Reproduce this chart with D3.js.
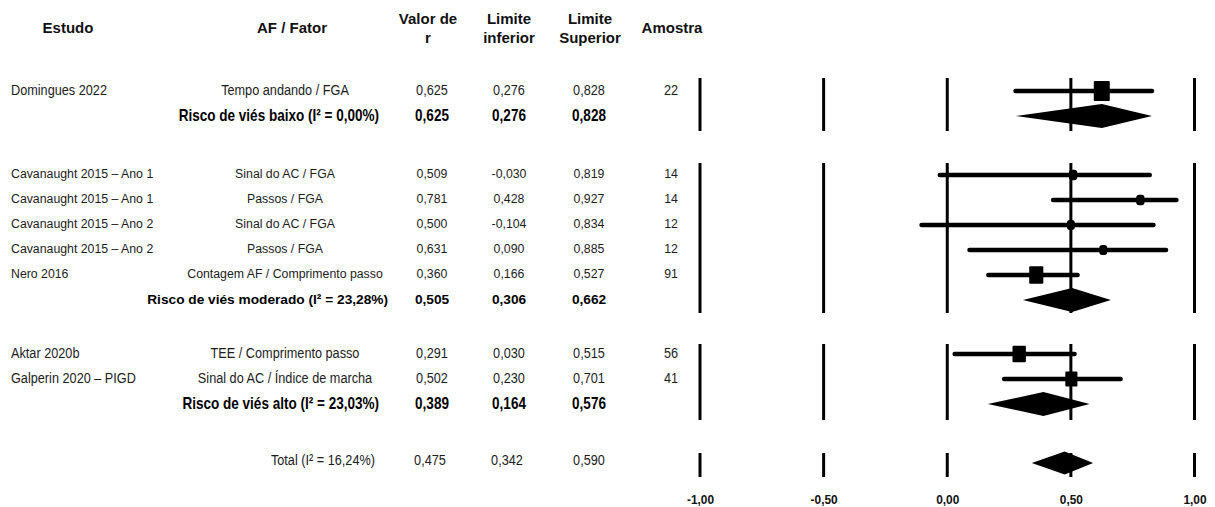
<!DOCTYPE html>
<html>
<head>
<meta charset="utf-8">
<script src="https://cdn.jsdelivr.net/npm/d3@7"></script>
<style>
  html, body { margin: 0; padding: 0; background: #fff; }
  svg { display: block; }
</style>
</head>
<body>
<svg id="forest" width="1215" height="507"></svg>
<script>
// ---- Study-level data ----
const studies = [
  "Domingues 2022",
  "Cavanaught 2015 – Ano 1",
  "Cavanaught 2015 – Ano 1",
  "Cavanaught 2015 – Ano 2",
  "Cavanaught 2015 – Ano 2",
  "Nero 2016",
  "Aktar 2020b",
  "Galperin 2020 – PIGD"
];
const factors = [
  "Tempo andando / FGA",
  "Sinal do AC / FGA",
  "Passos / FGA",
  "Sinal do AC / FGA",
  "Passos / FGA",
  "Contagem AF / Comprimento passo",
  "TEE / Comprimento passo",
  "Sinal do AC / Índice de marcha"
];
const rValues     = [0.625, 0.509, 0.781, 0.500, 0.631, 0.360, 0.291, 0.502];
const lowerLimits = [0.276, -0.030, 0.428, -0.104, 0.090, 0.166, 0.030, 0.230];
const upperLimits = [0.828, 0.819, 0.927, 0.834, 0.885, 0.527, 0.515, 0.701];
const sampleSizes = [22, 14, 14, 12, 12, 91, 56, 41];
const studyGroup  = [0, 1, 1, 1, 1, 1, 2, 2];

// ---- Subgroup (risk of bias) summaries ----
const groupLabels = [
  "Risco de viés baixo (I² = 0,00%)",
  "Risco de viés moderado (I² = 23,28%)",
  "Risco de viés alto (I² = 23,03%)"
];
const groupR     = [0.625, 0.505, 0.389];
const groupLower = [0.276, 0.306, 0.164];
const groupUpper = [0.828, 0.662, 0.576];

// ---- Overall summary ----
const totalLabel = "Total (I² = 16,24%)";
const totalR = 0.475, totalLower = 0.342, totalUpper = 0.590;

// ---- Axis ----
const axisTicks = [-1, -0.5, 0, 0.5, 1];

// ---- Column headers ----
const headers = [
  { lines: ["Estudo"], col: "study" },
  { lines: ["AF / Fator"], col: "factor" },
  { lines: ["Valor de", "r"], col: "r" },
  { lines: ["Limite", "inferior"], col: "lo" },
  { lines: ["Limite", "Superior"], col: "hi" },
  { lines: ["Amostra"], col: "n" }
];

// ================= layout =================
const svg = d3.select("#forest");
const ptLocale = d3.formatLocale({ decimal: ",", thousands: ".", grouping: [3], currency: ["R$", ""], minus: "-" });
const fmt3 = ptLocale.format(".3f");
const fmt2 = ptLocale.format(".2f");

const x = d3.scaleLinear().domain([-1, 1]).range([700, 1194.5]);

const colX = { study: 11, factor: 285, label: 379, r: 432, lo: 509, hi: 589, n: 671 };
const headerX = { study: 68, factor: 292, r: 428, lo: 509, hi: 590, n: 672 };

// vertical layout of each block
const rowStep = 25;
const groupTop = [90, 174, 353];
const totalY = 460;

const FONT = "'Liberation Sans', Arial, Helvetica, sans-serif";
// text styles per block: groups 0 and 2 are set in a condensed face
const styles = {
  narrow:     { size: 15.5, weight: "normal", sx: 0.82, fill: "#1c1c1c" },
  narrowBold: { size: 16.5, weight: "bold",   sx: 0.82, fill: "#000" },
  plain:      { size: 12.3, weight: "normal", sx: 1,    fill: "#1c1c1c" },
  plainBold:  { size: 13.7, weight: "bold",   sx: 1,    fill: "#000" }
};
const groupStyle = [
  [styles.narrow, styles.narrowBold],
  [styles.plain, styles.plainBold],
  [styles.narrow, styles.narrowBold]
];

function putText(g, str, tx, ty, anchor, st) {
  g.append("text")
    .attr("transform", `translate(${tx},${ty}) scale(${st.sx},1)`)
    .attr("text-anchor", anchor)
    .attr("dy", "0.35em")
    .style("font-family", FONT)
    .style("font-size", st.size + "px")
    .style("font-weight", st.weight)
    .style("fill", st.fill)
    .text(str);
}

// ---- headers ----
const hg = svg.append("g").attr("class", "headers");
headers.forEach(h => {
  const ys = h.lines.length === 1 ? [28] : [19, 38];
  h.lines.forEach((ln, i) => {
    hg.append("text")
      .attr("x", headerX[h.col]).attr("y", ys[i]).attr("dy", "0.35em")
      .attr("text-anchor", "middle")
      .style("font-family", FONT).style("font-size", "15px").style("font-weight", "bold")
      .style("fill", "#111")
      .text(ln);
  });
});

// ---- study rows ----
const idx = d3.range(studies.length);
const rowInGroup = idx.map(i => idx.filter(j => j < i && studyGroup[j] === studyGroup[i]).length);
const rowY = idx.map(i => groupTop[studyGroup[i]] + rowInGroup[i] * rowStep);
const groupCount = [0, 1, 2].map(g => idx.filter(i => studyGroup[i] === g).length);
const groupY = [0, 1, 2].map(g => groupTop[g] + groupCount[g] * rowStep);

// within-subgroup weights (inverse variance of Fisher z: n - 3)
const weights = idx.map(i => {
  const tot = d3.sum(idx.filter(j => studyGroup[j] === studyGroup[i]), j => sampleSizes[j] - 3);
  return (sampleSizes[i] - 3) / tot;
});
const side = d3.scaleSqrt().domain([0, 1]).range([5, 16]);

const tg = svg.append("g").attr("class", "table");
idx.forEach(i => {
  const st = groupStyle[studyGroup[i]][0];
  putText(tg, studies[i], colX.study, rowY[i], "start", st);
  putText(tg, factors[i], colX.factor, rowY[i], "middle", st);
  putText(tg, fmt3(rValues[i]), colX.r, rowY[i], "middle", st);
  putText(tg, fmt3(lowerLimits[i]), colX.lo, rowY[i], "middle", st);
  putText(tg, fmt3(upperLimits[i]), colX.hi, rowY[i], "middle", st);
  putText(tg, String(sampleSizes[i]), colX.n, rowY[i], "middle", st);
});
[0, 1, 2].forEach(g => {
  const st = groupStyle[g][1];
  putText(tg, groupLabels[g], colX.label + (g === 1 ? 9 : 0), groupY[g], "end", st);
  putText(tg, fmt3(groupR[g]), colX.r, groupY[g], "middle", st);
  putText(tg, fmt3(groupLower[g]), colX.lo, groupY[g], "middle", st);
  putText(tg, fmt3(groupUpper[g]), colX.hi, groupY[g], "middle", st);
});
putText(tg, totalLabel, colX.label - 4, totalY, "end", styles.narrow);
putText(tg, fmt3(totalR), colX.r - 2, totalY, "middle", styles.narrow);
putText(tg, fmt3(totalLower), colX.lo - 2, totalY, "middle", styles.narrow);
putText(tg, fmt3(totalUpper), colX.hi, totalY, "middle", styles.narrow);

// ---- vertical reference lines, one segment per block ----
const pg = svg.append("g").attr("class", "plot");
const blocks = [
  { y0: groupTop[0] - 12, y1: groupY[0] + 16 },
  { y0: groupTop[1] - 11, y1: groupY[1] + 14 },
  { y0: groupTop[2] - 9,  y1: groupY[2] + 17 },
  { y0: totalY - 7,       y1: totalY + 17 }
];
blocks.forEach(b => {
  pg.selectAll(null).data(axisTicks).join("line")
    .attr("x1", d => x(d)).attr("x2", d => x(d))
    .attr("y1", b.y0).attr("y2", b.y1)
    .attr("stroke", "#000").attr("stroke-width", 3);
});

// ---- confidence intervals and point estimates ----
const markOff = 1;
pg.selectAll(null).data(idx).join("line")
  .attr("x1", i => x(lowerLimits[i])).attr("x2", i => x(upperLimits[i]))
  .attr("y1", i => rowY[i] + markOff).attr("y2", i => rowY[i] + markOff)
  .attr("stroke", "#000").attr("stroke-width", 4.5).attr("stroke-linecap", "round");
pg.selectAll(null).data(idx).join("rect")
  .attr("x", i => x(rValues[i]) - side(weights[i]) / 2)
  .attr("y", i => rowY[i] + markOff - side(weights[i]) * 1.25 / 2)
  .attr("width", i => side(weights[i]))
  .attr("height", i => side(weights[i]) * 1.25)
  .attr("rx", i => weights[i] < 0.2 ? 3 : 1)
  .attr("fill", "#000");

// ---- summary diamonds ----
function diamond(r, lo, hi, cy, h) {
  return [[x(lo), cy], [x(r), cy - h], [x(hi), cy], [x(r), cy + h]].map(p => p.join(",")).join(" ");
}
pg.selectAll(null).data([0, 1, 2]).join("polygon")
  .attr("points", g => diamond(groupR[g], groupLower[g], groupUpper[g], groupY[g] + markOff, 12))
  .attr("fill", "#000");
pg.append("polygon")
  .attr("points", diamond(totalR, totalLower, totalUpper, totalY + 3, 11.5))
  .attr("fill", "#000");

// ---- axis labels ----
const ax = svg.append("g").attr("transform", "translate(0,494)")
  .call(d3.axisBottom(x).tickValues(axisTicks).tickSize(0).tickPadding(0).tickFormat(fmt2));
ax.select(".domain").remove();
ax.selectAll("text")
  .attr("transform", "scale(0.88,1)")
  .style("font-family", FONT).style("font-size", "13.5px").style("font-weight", "bold")
  .style("fill", "#111");
</script>
</body>
</html>
